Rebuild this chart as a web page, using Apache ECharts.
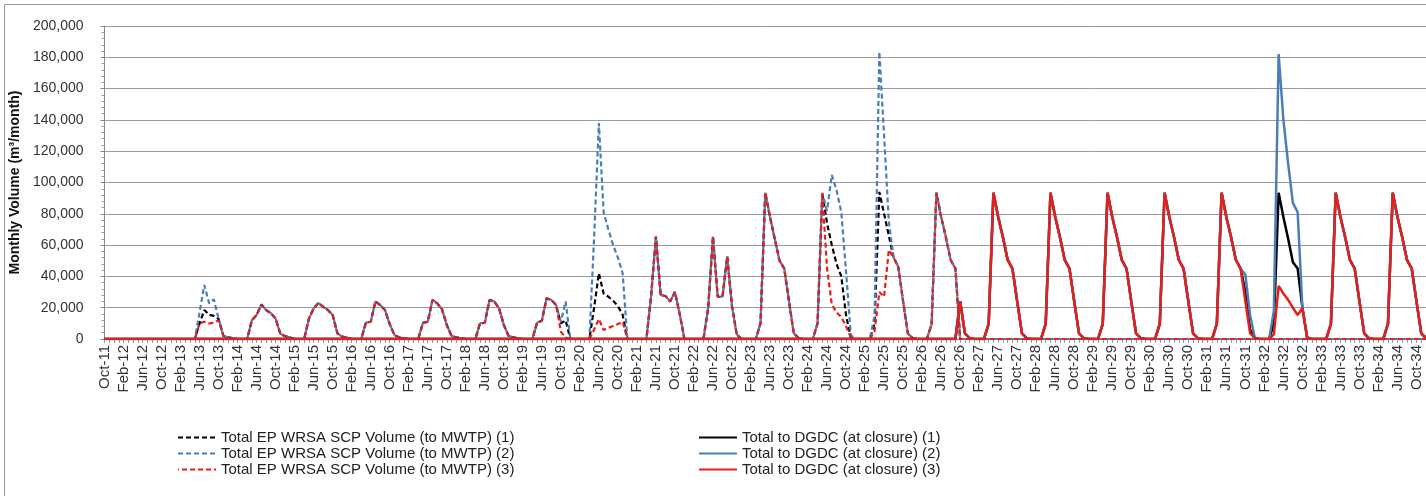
<!DOCTYPE html>
<html>
<head>
<meta charset="utf-8">
<script src="https://cdn.jsdelivr.net/npm/echarts@6/dist/echarts.min.js"></script>
<style>
  html, body { margin: 0; padding: 0; background: #fff; }
  #chart { width: 1426px; height: 496px; }
</style>
</head>
<body>
<div id="chart"></div>
<script>
// Monthly categories Oct-2011 .. Dec-2034
const monthNames = ['Jan','Feb','Mar','Apr','May','Jun','Jul','Aug','Sep','Oct','Nov','Dec'];
const categories = [];
for (let y = 2011; y <= 2034; y++) {
  for (let m = (y === 2011 ? 9 : 0); m < 12; m++) {
    categories.push(monthNames[m] + '-' + String(y).slice(2));
  }
}

const yTicks = { min: 0, max: 200000, step: 20000 };

const seriesNames = [
  'Total EP WRSA SCP Volume (to MWTP) (1)',
  'Total EP WRSA SCP Volume (to MWTP) (2)',
  'Total EP WRSA SCP Volume (to MWTP) (3)',
  'Total to DGDC (at closure) (1)',
  'Total to DGDC (at closure) (2)',
  'Total to DGDC (at closure) (3)'
];

// Monthly volumes (m3/month), one row per calendar year (2011 row = Oct..Dec)
const mwtp1 = [
  [0, 0, 0],
  [0, 0, 0, 0, 0, 0, 0, 0, 0, 0, 0, 0],
  [0, 0, 0, 0, 0, 10000, 18500, 15500, 14800, 12800, 2000, 1000],
  [500, 0, 0, 0, 12000, 15300, 22000, 18500, 16500, 13000, 3300, 1800],
  [1000, 0, 0, 0, 13000, 19600, 23000, 20600, 18500, 15300, 3600, 1500],
  [1000, 0, 0, 0, 10500, 11000, 24000, 21700, 18500, 9500, 2500, 1000],
  [500, 0, 0, 0, 10400, 11000, 25000, 22800, 19000, 9000, 2000, 1000],
  [500, 0, 0, 0, 10000, 10400, 25000, 23900, 19600, 9000, 2000, 1000],
  [500, 0, 0, 0, 10400, 11700, 26000, 25000, 21700, 10000, 12000, 0],
  [0, 0, 0, 0, 20000, 42000, 29000, 27000, 24500, 21000, 15500, 0],
  [0, 0, 0, 0, 28000, 65400, 28000, 27500, 24000, 30000, 16000, 0],
  [0, 0, 0, 0, 20000, 65400, 27000, 27000, 52600, 21000, 3000, 0],
  [0, 0, 0, 10000, 93500, 78000, 64000, 50000, 45000, 24000, 3600, 600],
  [0, 0, 0, 10000, 93500, 74000, 60000, 48000, 40000, 15000, 1000, 0],
  [0, 0, 0, 10000, 94000, 80000, 66000, 52000, 46000, 24000, 3600, 600],
  [0, 0, 0, 9600, 93500, 78000, 65000, 50500, 45000, 0, 0, 0],
  [0, 0, 0, 0, 0, 0, 0, 0, 0, 0, 0, 0],
  [0, 0, 0, 0, 0, 0, 0, 0, 0, 0, 0, 0],
  [0, 0, 0, 0, 0, 0, 0, 0, 0, 0, 0, 0],
  [0, 0, 0, 0, 0, 0, 0, 0, 0, 0, 0, 0],
  [0, 0, 0, 0, 0, 0, 0, 0, 0, 0, 0, 0],
  [0, 0, 0, 0, 0, 0, 0, 0, 0, 0, 0, 0],
  [0, 0, 0, 0, 0, 0, 0, 0, 0, 0, 0, 0],
  [0, 0, 0, 0, 0, 0, 0, 0, 0, 0, 0, 0]
];

const mwtp2 = [
  [0, 0, 0],
  [0, 0, 0, 0, 0, 0, 0, 0, 0, 0, 0, 0],
  [0, 0, 0, 0, 0, 17000, 34500, 22800, 25300, 13000, 2000, 1000],
  [500, 0, 0, 0, 12000, 15300, 22000, 18500, 16500, 13000, 3300, 1800],
  [1000, 0, 0, 0, 13000, 19600, 23000, 20600, 18500, 15300, 3600, 1500],
  [1000, 0, 0, 0, 10500, 11000, 24000, 21700, 18500, 9500, 2500, 1000],
  [500, 0, 0, 0, 10400, 11000, 25000, 22800, 19000, 9000, 2000, 1000],
  [500, 0, 0, 0, 10000, 10400, 25000, 23900, 19600, 9000, 2000, 1000],
  [500, 0, 0, 0, 10400, 11700, 26000, 25000, 21700, 11000, 24000, 0],
  [0, 0, 0, 0, 65000, 138000, 81000, 70000, 60000, 52000, 42000, 0],
  [0, 0, 0, 0, 28000, 65400, 28000, 27500, 24000, 30000, 16000, 0],
  [0, 0, 0, 0, 20000, 65400, 27000, 27000, 52600, 21000, 3000, 0],
  [0, 0, 0, 10000, 93500, 78000, 64000, 50000, 45000, 24000, 3600, 600],
  [0, 0, 0, 10000, 93500, 82000, 104800, 95000, 81000, 43000, 2500, 0],
  [0, 0, 0, 15000, 183500, 130000, 75000, 52000, 46000, 24000, 3600, 600],
  [0, 0, 0, 9600, 93500, 78000, 65000, 50500, 45000, 0, 0, 0],
  [0, 0, 0, 0, 0, 0, 0, 0, 0, 0, 0, 0],
  [0, 0, 0, 0, 0, 0, 0, 0, 0, 0, 0, 0],
  [0, 0, 0, 0, 0, 0, 0, 0, 0, 0, 0, 0],
  [0, 0, 0, 0, 0, 0, 0, 0, 0, 0, 0, 0],
  [0, 0, 0, 0, 0, 0, 0, 0, 0, 0, 0, 0],
  [0, 0, 0, 0, 0, 0, 0, 0, 0, 0, 0, 0],
  [0, 0, 0, 0, 0, 0, 0, 0, 0, 0, 0, 0],
  [0, 0, 0, 0, 0, 0, 0, 0, 0, 0, 0, 0]
];

const mwtp3 = [
  [0, 0, 0],
  [0, 0, 0, 0, 0, 0, 0, 0, 0, 0, 0, 0],
  [0, 0, 0, 0, 0, 10000, 11000, 10000, 10400, 12000, 2000, 1000],
  [500, 0, 0, 0, 12000, 15300, 22000, 18500, 16500, 13000, 3300, 1800],
  [1000, 0, 0, 0, 13000, 19600, 23000, 20600, 18500, 15300, 3600, 1500],
  [1000, 0, 0, 0, 10500, 11000, 24000, 21700, 18500, 9500, 2500, 1000],
  [500, 0, 0, 0, 10400, 11000, 25000, 22800, 19000, 9000, 2000, 1000],
  [500, 0, 0, 0, 10000, 10400, 25000, 23900, 19600, 9000, 2000, 1000],
  [500, 0, 0, 0, 10400, 11700, 26000, 25000, 21700, 4700, 1000, 0],
  [0, 0, 0, 0, 6000, 12800, 5700, 7200, 8300, 9600, 11000, 0],
  [0, 0, 0, 0, 28000, 65400, 28000, 27500, 24000, 30000, 16000, 0],
  [0, 0, 0, 0, 20000, 65400, 27000, 27000, 52600, 21000, 3000, 0],
  [0, 0, 0, 10000, 93500, 78000, 64000, 50000, 45000, 24000, 3600, 600],
  [0, 0, 0, 10000, 93500, 45000, 22000, 17000, 14000, 8000, 1000, 0],
  [0, 0, 0, 5000, 30000, 27000, 57000, 52000, 46000, 24000, 3600, 600],
  [0, 0, 0, 9600, 93500, 78000, 65000, 50500, 45000, 0, 0, 0],
  [0, 0, 0, 0, 0, 0, 0, 0, 0, 0, 0, 0],
  [0, 0, 0, 0, 0, 0, 0, 0, 0, 0, 0, 0],
  [0, 0, 0, 0, 0, 0, 0, 0, 0, 0, 0, 0],
  [0, 0, 0, 0, 0, 0, 0, 0, 0, 0, 0, 0],
  [0, 0, 0, 0, 0, 0, 0, 0, 0, 0, 0, 0],
  [0, 0, 0, 0, 0, 0, 0, 0, 0, 0, 0, 0],
  [0, 0, 0, 0, 0, 0, 0, 0, 0, 0, 0, 0],
  [0, 0, 0, 0, 0, 0, 0, 0, 0, 0, 0, 0]
];

const dgdc1 = [
  [0, 0, 0],
  [0, 0, 0, 0, 0, 0, 0, 0, 0, 0, 0, 0],
  [0, 0, 0, 0, 0, 0, 0, 0, 0, 0, 0, 0],
  [0, 0, 0, 0, 0, 0, 0, 0, 0, 0, 0, 0],
  [0, 0, 0, 0, 0, 0, 0, 0, 0, 0, 0, 0],
  [0, 0, 0, 0, 0, 0, 0, 0, 0, 0, 0, 0],
  [0, 0, 0, 0, 0, 0, 0, 0, 0, 0, 0, 0],
  [0, 0, 0, 0, 0, 0, 0, 0, 0, 0, 0, 0],
  [0, 0, 0, 0, 0, 0, 0, 0, 0, 0, 0, 0],
  [0, 0, 0, 0, 0, 0, 0, 0, 0, 0, 0, 0],
  [0, 0, 0, 0, 0, 0, 0, 0, 0, 0, 0, 0],
  [0, 0, 0, 0, 0, 0, 0, 0, 0, 0, 0, 0],
  [0, 0, 0, 0, 0, 0, 0, 0, 0, 0, 0, 0],
  [0, 0, 0, 0, 0, 0, 0, 0, 0, 0, 0, 0],
  [0, 0, 0, 0, 0, 0, 0, 0, 0, 0, 0, 0],
  [0, 0, 0, 0, 0, 0, 0, 0, 0, 24000, 3600, 600],
  [0, 0, 0, 9600, 93500, 78000, 65000, 50500, 45000, 24000, 3600, 600],
  [0, 0, 0, 9600, 93500, 78000, 65000, 50500, 45000, 24000, 3600, 600],
  [0, 0, 0, 9600, 93500, 78000, 65000, 50500, 45000, 24000, 3600, 600],
  [0, 0, 0, 9600, 93500, 78000, 65000, 50500, 45000, 24000, 3600, 600],
  [0, 0, 0, 9600, 93500, 78000, 65000, 50500, 45000, 30000, 6000, 600],
  [0, 0, 0, 9600, 93500, 78000, 64000, 49000, 45000, 20000, 1000, 0],
  [0, 0, 0, 9600, 93500, 78000, 65000, 50500, 45000, 24000, 3600, 600],
  [0, 0, 0, 9600, 93500, 78000, 65000, 50500, 45000, 24000, 3600, 600]
];

const dgdc2 = [
  [0, 0, 0],
  [0, 0, 0, 0, 0, 0, 0, 0, 0, 0, 0, 0],
  [0, 0, 0, 0, 0, 0, 0, 0, 0, 0, 0, 0],
  [0, 0, 0, 0, 0, 0, 0, 0, 0, 0, 0, 0],
  [0, 0, 0, 0, 0, 0, 0, 0, 0, 0, 0, 0],
  [0, 0, 0, 0, 0, 0, 0, 0, 0, 0, 0, 0],
  [0, 0, 0, 0, 0, 0, 0, 0, 0, 0, 0, 0],
  [0, 0, 0, 0, 0, 0, 0, 0, 0, 0, 0, 0],
  [0, 0, 0, 0, 0, 0, 0, 0, 0, 0, 0, 0],
  [0, 0, 0, 0, 0, 0, 0, 0, 0, 0, 0, 0],
  [0, 0, 0, 0, 0, 0, 0, 0, 0, 0, 0, 0],
  [0, 0, 0, 0, 0, 0, 0, 0, 0, 0, 0, 0],
  [0, 0, 0, 0, 0, 0, 0, 0, 0, 0, 0, 0],
  [0, 0, 0, 0, 0, 0, 0, 0, 0, 0, 0, 0],
  [0, 0, 0, 0, 0, 0, 0, 0, 0, 0, 0, 0],
  [0, 0, 0, 0, 0, 0, 0, 0, 0, 24000, 3600, 600],
  [0, 0, 0, 9600, 93500, 78000, 65000, 50500, 45000, 24000, 3600, 600],
  [0, 0, 0, 9600, 93500, 78000, 65000, 50500, 45000, 24000, 3600, 600],
  [0, 0, 0, 9600, 93500, 78000, 65000, 50500, 45000, 24000, 3600, 600],
  [0, 0, 0, 9600, 93500, 78000, 65000, 50500, 45000, 24000, 3600, 600],
  [0, 0, 0, 9600, 93500, 78000, 65000, 50500, 45000, 41000, 15000, 600],
  [0, 0, 0, 18000, 182000, 140000, 112000, 87000, 81000, 20000, 1000, 0],
  [0, 0, 0, 9600, 93500, 78000, 65000, 50500, 45000, 24000, 3600, 600],
  [0, 0, 0, 9600, 93500, 78000, 65000, 50500, 45000, 24000, 3600, 600]
];

const dgdc3 = [
  [0, 0, 0],
  [0, 0, 0, 0, 0, 0, 0, 0, 0, 0, 0, 0],
  [0, 0, 0, 0, 0, 0, 0, 0, 0, 0, 0, 0],
  [0, 0, 0, 0, 0, 0, 0, 0, 0, 0, 0, 0],
  [0, 0, 0, 0, 0, 0, 0, 0, 0, 0, 0, 0],
  [0, 0, 0, 0, 0, 0, 0, 0, 0, 0, 0, 0],
  [0, 0, 0, 0, 0, 0, 0, 0, 0, 0, 0, 0],
  [0, 0, 0, 0, 0, 0, 0, 0, 0, 0, 0, 0],
  [0, 0, 0, 0, 0, 0, 0, 0, 0, 0, 0, 0],
  [0, 0, 0, 0, 0, 0, 0, 0, 0, 0, 0, 0],
  [0, 0, 0, 0, 0, 0, 0, 0, 0, 0, 0, 0],
  [0, 0, 0, 0, 0, 0, 0, 0, 0, 0, 0, 0],
  [0, 0, 0, 0, 0, 0, 0, 0, 0, 0, 0, 0],
  [0, 0, 0, 0, 0, 0, 0, 0, 0, 0, 0, 0],
  [0, 0, 0, 0, 0, 0, 0, 0, 0, 0, 0, 0],
  [0, 0, 0, 0, 0, 0, 0, 0, 0, 24000, 3600, 600],
  [0, 0, 0, 9600, 93500, 78000, 65000, 50500, 45000, 24000, 3600, 600],
  [0, 0, 0, 9600, 93500, 78000, 65000, 50500, 45000, 24000, 3600, 600],
  [0, 0, 0, 9600, 93500, 78000, 65000, 50500, 45000, 24000, 3600, 600],
  [0, 0, 0, 9600, 93500, 78000, 65000, 50500, 45000, 24000, 3600, 600],
  [0, 0, 0, 9600, 93500, 78000, 65000, 50500, 45000, 24000, 3600, 600],
  [0, 0, 0, 3000, 34000, 29000, 25000, 20000, 15300, 19600, 600, 0],
  [0, 0, 0, 9600, 93500, 78000, 65000, 50500, 45000, 24000, 3600, 600],
  [0, 0, 0, 9600, 93500, 78000, 65000, 50500, 45000, 24000, 3600, 600]
];

const FONT = '"Liberation Sans", Arial, sans-serif';
const BLACK = '#000000', BLUE = '#4a7ebb', RED = '#e3201c';

function lineSeries(name, rows, color, dashed, offset) {
  return {
    name: name,
    type: 'line',
    data: rows.flat(),
    symbol: 'none',
    smooth: false,
    animation: false,
    lineStyle: {
      color: color,
      width: dashed ? 2.2 : 2.5,
      type: dashed ? [5, 3] : 'solid',
      dashOffset: offset || 0
    },
    itemStyle: { color: color },
    emphasis: { disabled: true }
  };
}

const chart = echarts.init(document.getElementById('chart'), null, { renderer: 'canvas' });

// Two legend columns: dashed (to MWTP) on the left, solid (to DGDC) on the right
const legendBase = {
  orient: 'vertical',
  top: 430,
  padding: 0,
  itemWidth: 38,
  itemHeight: 14,
  itemGap: 1,
  selectedMode: false,
  itemStyle: { opacity: 0 },
  textStyle: { fontFamily: FONT, fontSize: 15, color: '#222' }
};

chart.setOption({
  backgroundColor: '#ffffff',
  animation: false,
  grid: { left: 103, right: 0, top: 26, bottom: 157, containLabel: false },
  legend: [
    Object.assign({}, legendBase, { left: 177, data: seriesNames.slice(0, 3) }),
    Object.assign({}, legendBase, { left: 698, data: seriesNames.slice(3, 6) })
  ],
  xAxis: {
    type: 'category',
    data: categories,
    boundaryGap: false,
    axisLine: { show: true, lineStyle: { color: '#888', width: 1 } },
    axisTick: { show: true, interval: 0, length: 4, lineStyle: { color: '#999' } },
    axisLabel: {
      interval: 3,
      rotate: 90,
      fontFamily: FONT,
      fontSize: 15,
      color: '#333',
      margin: 6
    },
    splitLine: { show: false }
  },
  yAxis: {
    type: 'value',
    min: yTicks.min,
    max: yTicks.max,
    interval: yTicks.step,
    name: 'Monthly Volume (m³/month)',
    nameLocation: 'middle',
    nameRotate: 90,
    nameGap: 74,
    nameTextStyle: { fontFamily: FONT, fontSize: 14, fontWeight: 'bold', color: '#111' },
    axisLine: { show: true, lineStyle: { color: '#888', width: 1 } },
    axisTick: { show: true, length: 4, lineStyle: { color: '#888' } },
    minorTick: { show: true, splitNumber: 5, length: 3, lineStyle: { color: '#999' } },
    axisLabel: {
      fontFamily: FONT,
      fontSize: 14,
      color: '#333',
      margin: 21,
      formatter: v => v.toLocaleString('en-US')
    },
    splitLine: { show: true, lineStyle: { color: '#9a9a9a', width: 1 } }
  },
  graphic: [{
    type: 'rect',
    shape: { x: 4.5, y: 4.5, width: 1440, height: 520 },
    style: { fill: 'none', stroke: '#9a9a9a', lineWidth: 1 },
    silent: true,
    z: -10
  }],
  series: [
    lineSeries(seriesNames[0], mwtp1, BLACK, true, 0),
    lineSeries(seriesNames[1], mwtp2, BLUE, true, 0),
    lineSeries(seriesNames[2], mwtp3, RED, true, 4),
    lineSeries(seriesNames[3], dgdc1, BLACK, false),
    lineSeries(seriesNames[4], dgdc2, BLUE, false),
    lineSeries(seriesNames[5], dgdc3, RED, false)
  ]
});
</script>
</body>
</html>
